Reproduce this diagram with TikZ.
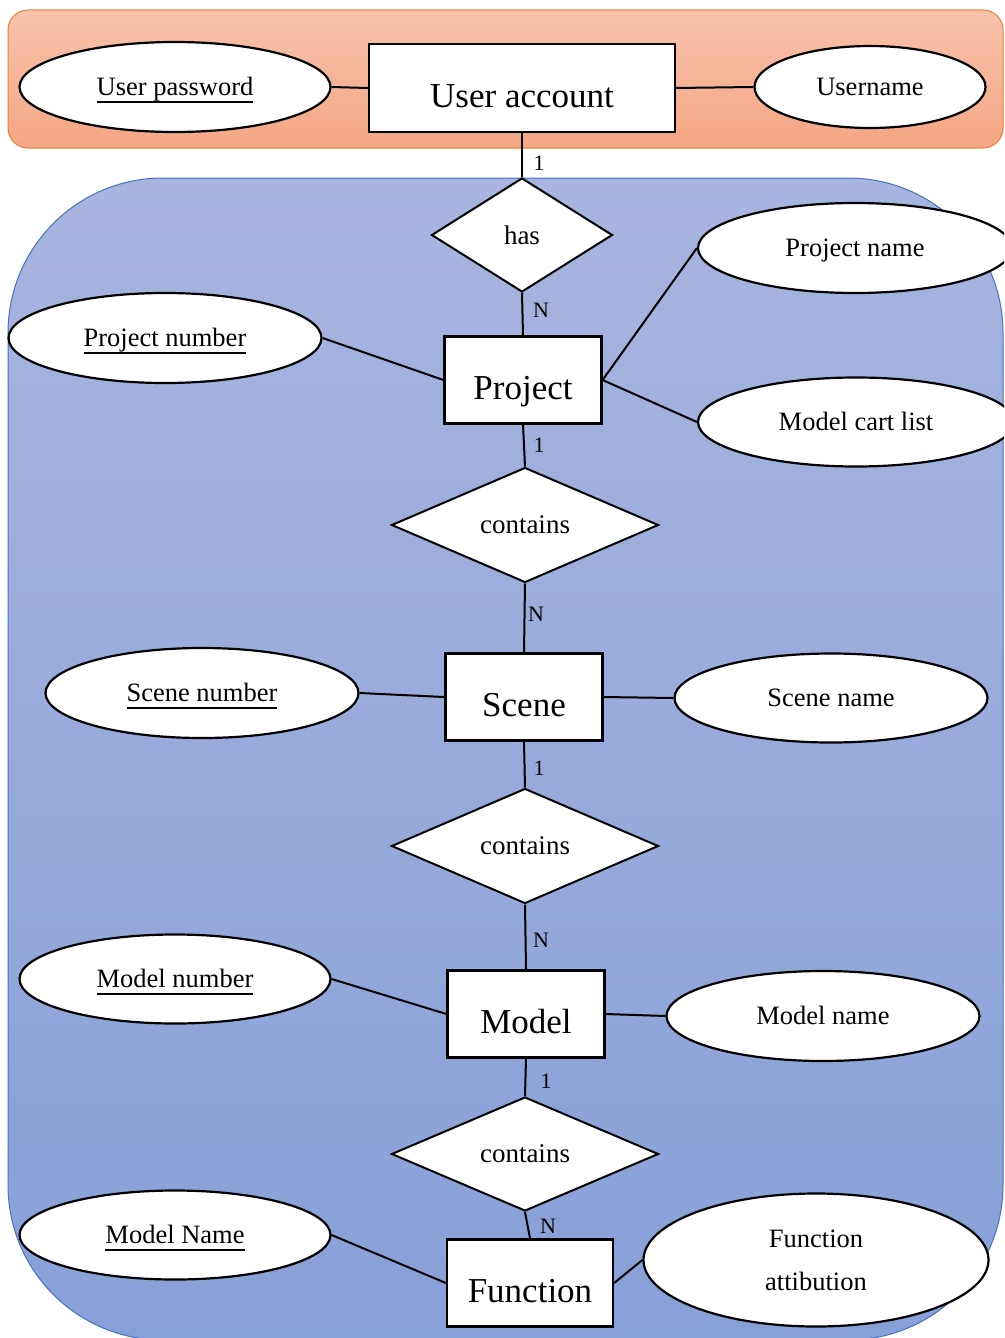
\documentclass[tikz,border=0pt]{standalone}
\usepackage{fontspec}
\setmainfont{Liberation Serif}
\usetikzlibrary{shapes.geometric}
\definecolor{orTop}{RGB}{248,195,172}
\definecolor{orBot}{RGB}{244,166,131}
\definecolor{orEdge}{RGB}{237,125,49}
\definecolor{blTop}{RGB}{167,181,223}
\definecolor{blBot}{RGB}{136,160,216}
\definecolor{blEdge}{RGB}{68,114,196}
\newcommand\keyattr[1]{\setbox0\hbox{#1}\leavevmode\rlap{\rule[-8pt]{\wd0}{1.8pt}}\box0}
\begin{document}
\begin{tikzpicture}[x=1pt,y=-1pt,
 entity/.style={draw, fill=white, line width=2.2pt, rectangle, inner sep=0pt, minimum width=157pt, minimum height=87pt, text height=38pt, text depth=0pt, font=\fontsize{35}{40}\selectfont},
 attr/.style={draw, fill=white, line width=2.2pt, ellipse, inner sep=0pt, minimum width=312pt, minimum height=90pt, text height=16pt, text depth=0pt, font=\fontsize{26.5}{31}\selectfont},
 rel/.style={draw, fill=white, line width=2pt, diamond, aspect=2.3, inner sep=0pt, minimum width=267pt, minimum height=115pt, font=\fontsize{27}{31}\selectfont},
 card/.style={inner sep=0pt, font=\fontsize{22}{26}\selectfont},
 link/.style={line width=2pt}]
\useasboundingbox (0,0) rectangle (1004,1338);
\clip (0,0) rectangle (1004,1338);
\path[draw=orEdge, line width=1pt, top color=orTop, bottom color=orBot, rounded corners=20pt] (8,10) rectangle (1003,148);
\path[draw=blEdge, line width=1pt, top color=blTop, bottom color=blBot, rounded corners=155pt] (8,178) rectangle (1003,1340);

\node[entity, minimum width=306pt, minimum height=88pt] (ua) at (522,88) {User account};
\node[attr, minimum width=311pt] (upw) at (175,87) {\keyattr{User password}};
\node[attr, minimum width=231pt, minimum height=82pt] (uname) at (870,87) {Username};
\node[rel, minimum width=181pt, minimum height=114pt, aspect=1.6] (has) at (522,235) {has};
\node[entity] (proj) at (523,380) {Project};
\node[attr, minimum width=313pt] (pnum) at (165,338) {\keyattr{Project number}};
\node[attr, minimum width=314pt] (pname) at (855,248) {Project name};
\node[attr, minimum width=316pt, minimum height=89pt] (mcart) at (856,422) {Model cart list};
\node[rel] (c1) at (525,525) {contains};
\node[entity] (scene) at (524,697) {Scene};
\node[attr, minimum width=313pt] (snum) at (202,693) {\keyattr{Scene number}};
\node[attr, minimum width=313pt, minimum height=89pt] (sname) at (831,698) {Scene name};
\node[rel] (c2) at (525,846) {contains};
\node[entity] (model) at (526,1014) {Model};
\node[attr, minimum width=311pt, minimum height=89pt] (mnum) at (175,979) {\keyattr{Model number}};
\node[attr, minimum width=313pt] (mname) at (823,1016) {Model name};
\node[rel, minimum height=114pt] (c3) at (525,1154) {contains};
\node[entity, minimum width=166pt] (func) at (530,1283) {Function};
\node[attr, minimum width=311pt, minimum height=89pt] (mName) at (175,1235) {\keyattr{Model Name}};
\node[attr, minimum width=345pt, minimum height=133pt, align=center, text height=, text depth=, font=\fontsize{26.5}{43}\selectfont] (fattr) at (816,1260) {Function\\attibution};

\draw[link] (upw.east) -- (ua.west);
\draw[link] (ua.east) -- (uname.west);
\draw[link] (ua.south) -- (has.north);
\draw[link] (has.south) -- (proj.north);
\draw[link] (pnum.east) -- (proj.west);
\draw[link] (proj.east) -- (pname.west);
\draw[link] (proj.east) -- (mcart.west);
\draw[link] (proj.south) -- (c1.north);
\draw[link] (c1.south) -- (scene.north);
\draw[link] (snum.east) -- (scene.west);
\draw[link] (scene.east) -- (sname.west);
\draw[link] (scene.south) -- (c2.north);
\draw[link] (c2.south) -- (model.north);
\draw[link] (mnum.east) -- (model.west);
\draw[link] (model.east) -- (mname.west);
\draw[link] (model.south) -- (c3.north);
\draw[link] (c3.south) -- (func.north);
\draw[link] (mName.east) -- (func.west);
\draw[link] (func.east) -- (fattr.west);

\node[card] (k1) at (539,163) {1};
\node[card] (k2) at (541,310) {N};
\node[card] (k3) at (539,445) {1};
\node[card] (k4) at (536,614) {N};
\node[card] (k5) at (539,768) {1};
\node[card] (k6) at (541,940) {N};
\node[card] (k7) at (546,1081) {1};
\node[card] (k8) at (548,1226) {N};
\end{tikzpicture}
\end{document}
